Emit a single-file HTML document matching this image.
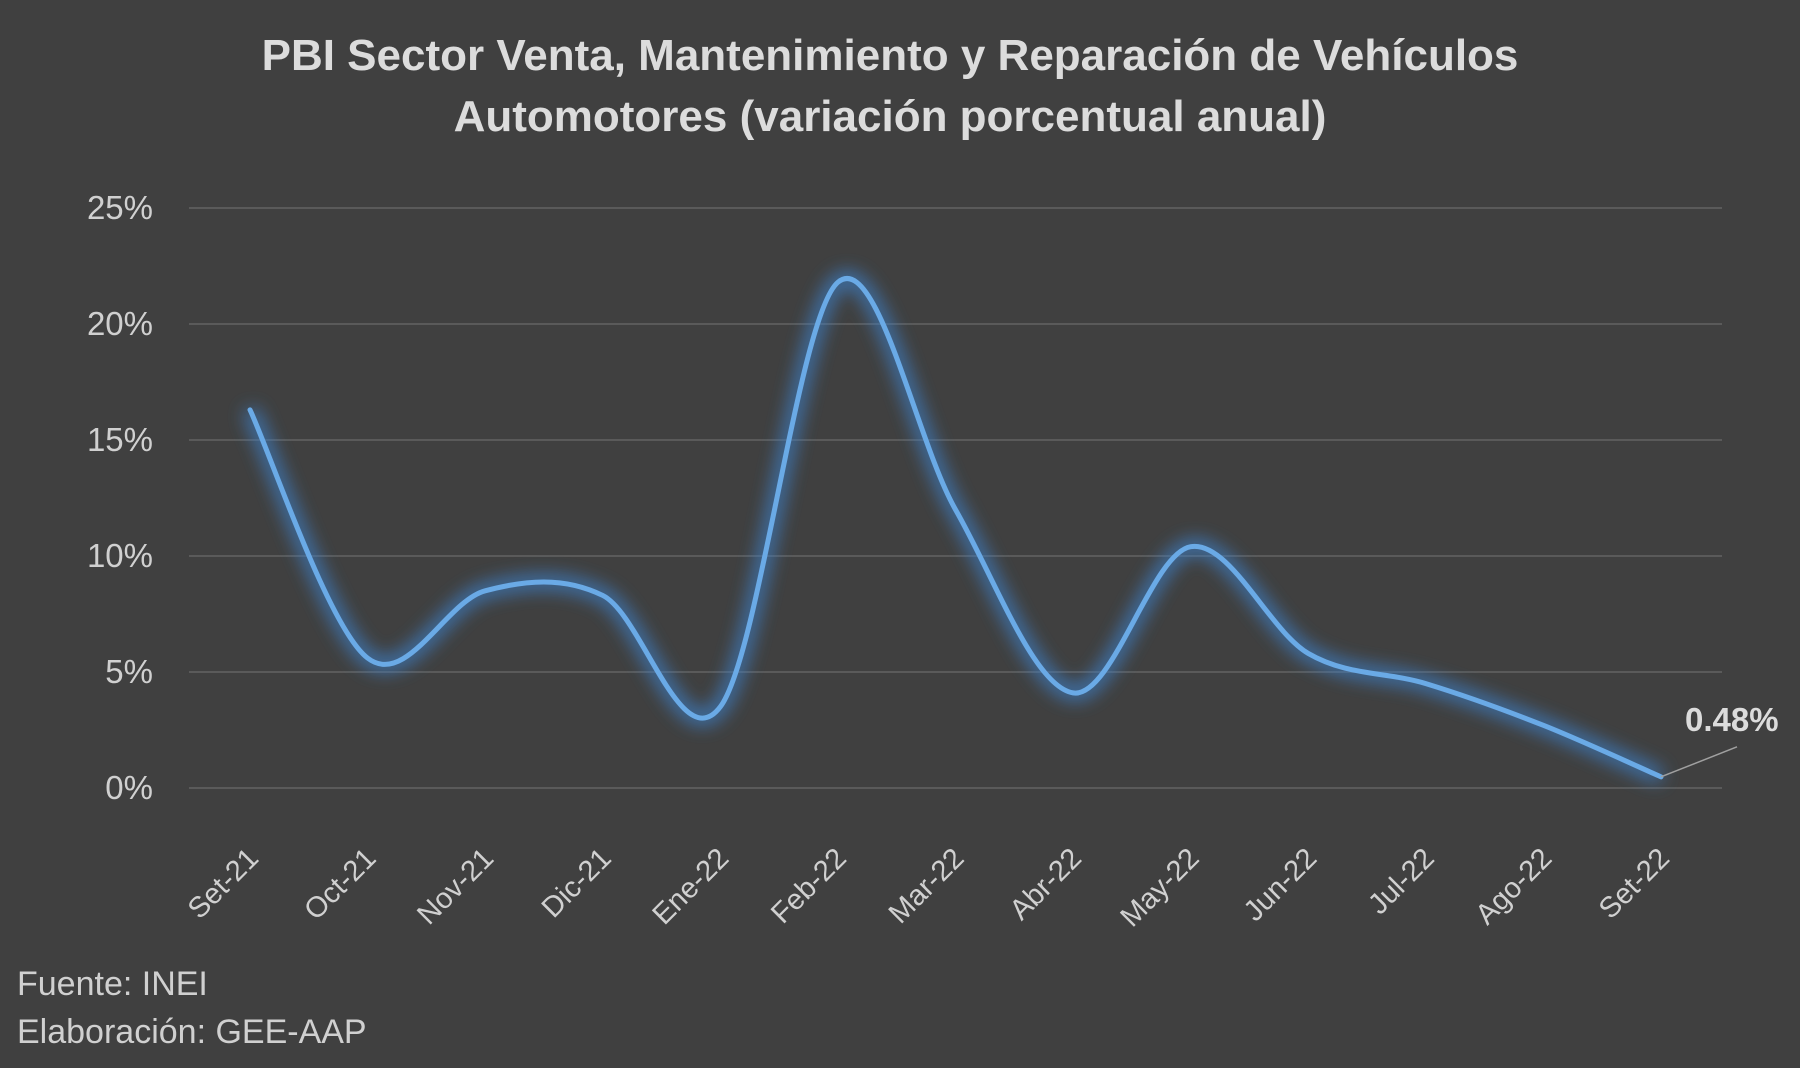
<!DOCTYPE html>
<html><head><meta charset="utf-8"><style>
html,body{margin:0;padding:0;background:#404040;}
svg{display:block;font-family:"Liberation Sans",sans-serif;}
</style></head><body>
<svg id="chart" width="1800" height="1068" viewBox="0 0 1800 1068" xmlns="http://www.w3.org/2000/svg">
<defs><filter id="glow" x="-10%" y="-20%" width="120%" height="140%"><feGaussianBlur stdDeviation="9"/></filter></defs>
<rect width="1800" height="1068" fill="#404040"/>
<text x="890" y="70" text-anchor="middle" font-size="44" font-weight="bold" fill="#dcdcdc">PBI Sector Venta, Mantenimiento y Reparación de Vehículos</text>
<text x="890" y="131" text-anchor="middle" font-size="44" font-weight="bold" fill="#dcdcdc">Automotores (variación porcentual anual)</text>
<g id="grid"></g><g id="yt"></g><g id="xt"></g><g id="series"></g>
<text x="17" y="995" font-size="34" fill="#d0d0d0">Fuente: INEI</text>
<text x="17" y="1043" font-size="34" fill="#d0d0d0">Elaboración: GEE-AAP</text>
</svg>
<script>
const categories=["Set-21","Oct-21","Nov-21","Dic-21","Ene-22","Feb-22","Mar-22","Abr-22","May-22","Jun-22","Jul-22","Ago-22","Set-22"];
const values=[16.3,5.6,8.5,8.3,3.5,21.8,12.0,4.1,10.4,5.8,4.5,2.7,0.48];
const yTicks=[0,5,10,15,20,25];
const yTickLabels=["0%","5%","10%","15%","20%","25%"];
const lastLabel="0.48%";
const NS="http://www.w3.org/2000/svg";
const x0=250,x1=1661,y0=788,yTop=208;
const xs=i=>x0+(x1-x0)*i/(categories.length-1);
const ys=v=>y0-(y0-yTop)*v/25;
function mk(t,a,p){const e=document.createElementNS(NS,t);for(const k in a)e.setAttribute(k,a[k]);p.appendChild(e);return e;}
const grid=document.getElementById('grid'),yt=document.getElementById('yt'),xt=document.getElementById('xt'),ser=document.getElementById('series');
yTicks.forEach((v,i)=>{
 const l=mk('line',{x1:189,x2:1722,y1:ys(v),y2:ys(v),stroke:'#5a5a5a','stroke-width':2},grid);
 
 
 const t=mk('text',{x:153,y:ys(v)+11,'text-anchor':'end','font-size':33,fill:'#d0d0d0'},yt);
 t.textContent=yTickLabels[i];
 
 
});
categories.forEach((c,i)=>{
 const x=xs(i)+10,y=860;
 const t=mk('text',{x:x,y:y,'text-anchor':'end','font-size':29,fill:'#d0d0d0',transform:`rotate(-45 ${x} ${y})`},xt);
 t.textContent=c;
 
 
});
const pts=values.map((v,i)=>[xs(i),ys(v)]);
let d=`M${pts[0][0]},${pts[0][1]}`;
for(let i=0;i<pts.length-1;i++){
 const p0=pts[Math.max(0,i-1)],p1=pts[i],p2=pts[i+1],p3=pts[Math.min(pts.length-1,i+2)];
 const k=6;
 d+=` C${p1[0]+(p2[0]-p0[0])/k},${p1[1]+(p2[1]-p0[1])/k} ${p2[0]-(p3[0]-p1[0])/k},${p2[1]-(p3[1]-p1[1])/k} ${p2[0]},${p2[1]}`;
}
const g=mk('path',{d:d,fill:'none',stroke:'#3d80c8','stroke-width':14,filter:'url(#glow)',opacity:0.9},ser);


const ln=mk('path',{d:d,fill:'none',stroke:'#6aaae6','stroke-width':5,'stroke-linecap':'round'},ser);


const lp=pts[pts.length-1];
const ll=mk('line',{x1:lp[0],y1:lp[1],x2:lp[0]+76,y2:lp[1]-30,stroke:'#a0a0a0','stroke-width':1.5},ser);


const dl=mk('text',{x:lp[0]+24,y:lp[1]-46,'font-size':33,'font-weight':'bold',fill:'#dcdcdc'},ser);
dl.textContent=lastLabel;


</script>
</body></html>
